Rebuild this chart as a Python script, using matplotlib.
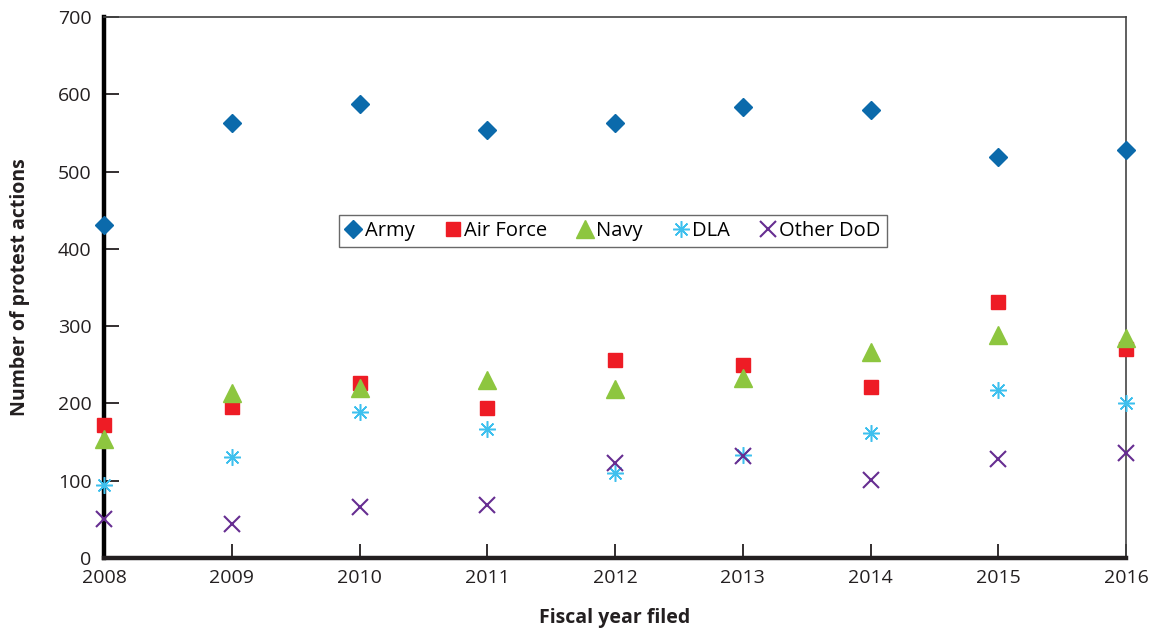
import matplotlib
matplotlib.use("Agg")
import matplotlib.pyplot as plt

plt.rcParams['font.family'] = ['Open Sans', 'DejaVu Sans']

years = [2008, 2009, 2010, 2011, 2012, 2013, 2014, 2015, 2016]
army = [431, 563, 587, 554, 563, 584, 580, 519, 528]
air_force = [172, 195, 227, 194, 256, 250, 221, 331, 270]
navy = [154, 214, 220, 230, 219, 233, 267, 289, 285]
dla = [94, 131, 189, 167, 110, 133, 162, 217, 200]
other_dod = [50, 44, 66, 69, 123, 132, 101, 128, 136]
y_ticks = [0, 100, 200, 300, 400, 500, 600, 700]

fig = plt.figure(figsize=(11.56, 6.37), dpi=100)
ax = fig.add_axes([104/1156, 1-558/637, 1022/1156, 541/637])

kw = dict(linestyle='none', clip_on=False, zorder=5)
ax.plot(years, army, marker='D', color='#0b6aab', markersize=9, label='Army', **kw)
ax.plot(years, air_force, marker='s', color='#ee1c25', markersize=10.5, label='Air Force', **kw)
ax.plot(years, navy, marker='^', color='#8dc63f', markersize=12.5, label='Navy', **kw)
ax.plot(years, dla, marker=(8, 2, 0), color='#3ec0ee', markersize=12, markeredgewidth=1.1, label='DLA', **kw)
ax.plot(years, other_dod, marker='x', color='#662d91', markersize=11, markeredgewidth=1.5, label='Other DoD', **kw)

ax.set_xlim(2008, 2016)
ax.set_ylim(0, 700)
ax.set_xticks(years)
ax.set_yticks(y_ticks)
ax.tick_params(axis='both', direction='in', labelsize=14, colors='#231f20')
ax.tick_params(axis='x', length=10, width=1.3, pad=8)
ax.tick_params(axis='y', length=11, width=1.3, pad=9)

ax.spines['left'].set_linewidth(3.2)
ax.spines['left'].set_color('black')
ax.spines['bottom'].set_linewidth(3.2)
ax.spines['bottom'].set_color('#231f20')
ax.spines['top'].set_linewidth(1.2)
ax.spines['top'].set_color('#444444')
ax.spines['right'].set_linewidth(1.2)
ax.spines['right'].set_color('#444444')

ax.set_xlabel('Fiscal year filed', fontsize=14, fontweight='bold', labelpad=15, color='#231f20')
ax.set_ylabel('Number of protest actions', fontsize=14, fontweight='bold', labelpad=20, color='#231f20')

leg = ax.legend(loc='center', bbox_to_anchor=(0.498, 0.604), ncol=5, fontsize=14.5,
                frameon=True, fancybox=False, edgecolor='#444444', handlelength=0.8,
                handletextpad=0.15, columnspacing=1.5, borderpad=0.3)
leg.get_frame().set_linewidth(1.0)

fig.savefig('out.png', dpi=100)
